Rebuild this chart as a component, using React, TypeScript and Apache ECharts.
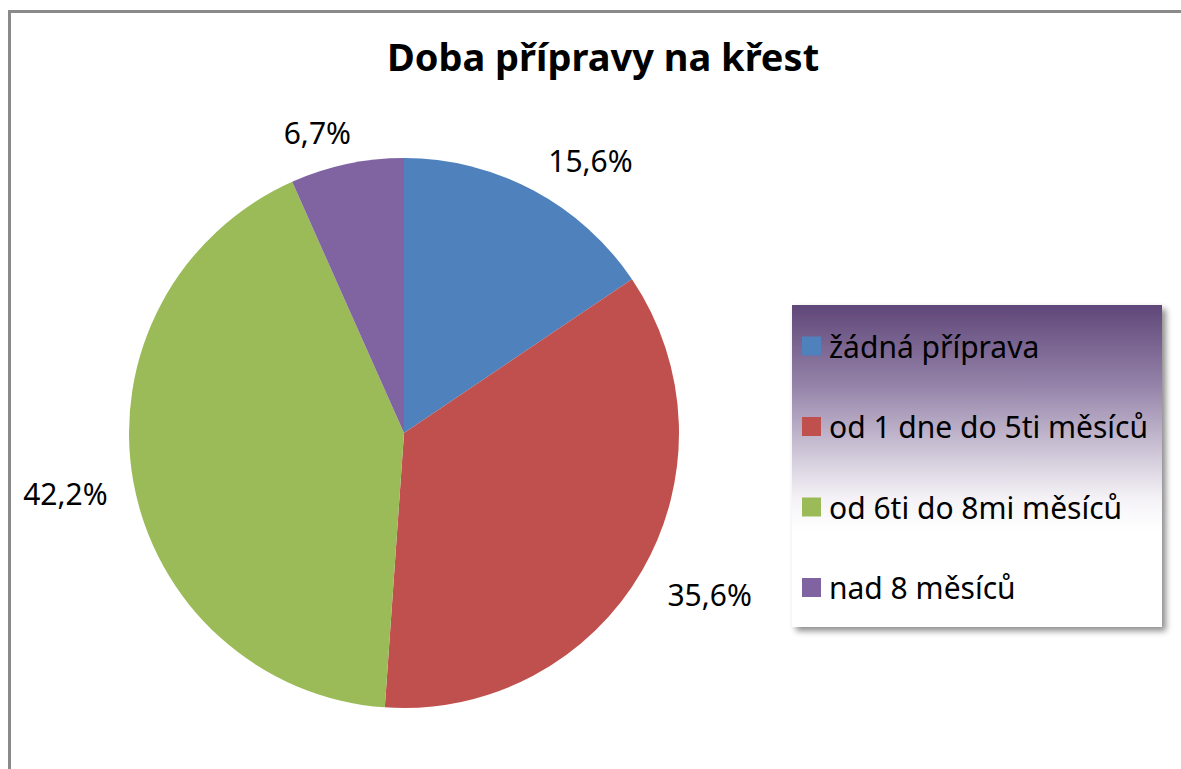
import React, { useEffect, useRef } from "react";
import * as echarts from "echarts";

const titleText = "Doba přípravy na křest";
const categories = [
  "žádná příprava",
  "od 1 dne do 5ti měsíců",
  "od 6ti do 8mi měsíců",
  "nad 8 měsíců",
];
const counts = [7, 16, 19, 3];
const colors = ["#4f81bd", "#c0504d", "#9bbb59", "#8064a2"];
// small per-label nudges (layout only) to mimic Excel's outside-end placement
const labelNudge = [
  [-3, -5],
  [-4, 10],
  [7, 8],
  [15, -4],
];

const FONT = "'Noto Sans', sans-serif";

export default function App() {
  const ref = useRef<HTMLDivElement>(null);
  useEffect(() => {
    if (!ref.current) return;
    const chart = echarts.init(ref.current, undefined, { renderer: "svg" });
    const total = counts.reduce((a, b) => a + b, 0);
    chart.setOption({
      animation: false,
      backgroundColor: "#ffffff",
      color: colors,
      title: {
        text: titleText,
        left: 598,
        textAlign: "center",
        top: 32,
        textStyle: { fontFamily: FONT, fontSize: 38, fontWeight: "bold", color: "#000" },
      },
      graphic: [
        {
          type: "rect",
          z: -10,
          silent: true,
          shape: { x: 9.5, y: 11.5, width: 1400, height: 1000 },
          style: { fill: "none", stroke: "#8a8a8a", lineWidth: 3 },
        },
        {
          type: "rect",
          z: 0,
          silent: true,
          shape: { x: 792, y: 305, width: 370, height: 322 },
          style: {
            fill: new echarts.graphic.LinearGradient(0, 0, 0, 1, [
              { offset: 0, color: "#5f4779" },
              { offset: 0.25, color: "#9583a9" },
              { offset: 0.42, color: "#c4bacf" },
              { offset: 0.6, color: "#f4f2f6" },
              { offset: 0.7, color: "#ffffff" },
              { offset: 1, color: "#ffffff" },
            ]),
            shadowBlur: 6,
            shadowOffsetX: 4,
            shadowOffsetY: 4,
            shadowColor: "rgba(0,0,0,0.45)",
          },
        },
      ],
      legend: {
        orient: "vertical",
        left: 802,
        top: 331,
        z: 5,
        itemWidth: 19,
        itemHeight: 19,
        itemGap: 50.5,
        padding: 0,
        icon: "rect",
        textStyle: { fontFamily: FONT, fontSize: 30, color: "#000", lineHeight: 30, padding: [0, 0, 0, 3] },
        data: categories,
      },
      series: [
        {
          type: "pie",
          center: [404, 433],
          radius: 275,
          startAngle: 90,
          clockwise: true,
          avoidLabelOverlap: false,
          data: categories.map((c, i) => ({ name: c, value: counts[i] })),
          itemStyle: { borderWidth: 0 },
          label: {
            show: true,
            position: "outside",
            fontFamily: FONT,
            fontSize: 30,
            color: "#000",
            formatter: (p: any) => ((p.value / total) * 100).toFixed(1).replace(".", ",") + "%",
          },
          labelLine: { show: false, length: 28, length2: 0 },
          labelLayout: (p: any) => ({
            dx: labelNudge[p.dataIndex][0],
            dy: labelNudge[p.dataIndex][1],
          }),
          emphasis: { disabled: true },
        },
      ],
    });
    return () => chart.dispose();
  }, []);
  return (
    <div
      ref={ref}
      style={{ position: "fixed", left: 0, top: 0, width: 1181, height: 769 }}
    />
  );
}
